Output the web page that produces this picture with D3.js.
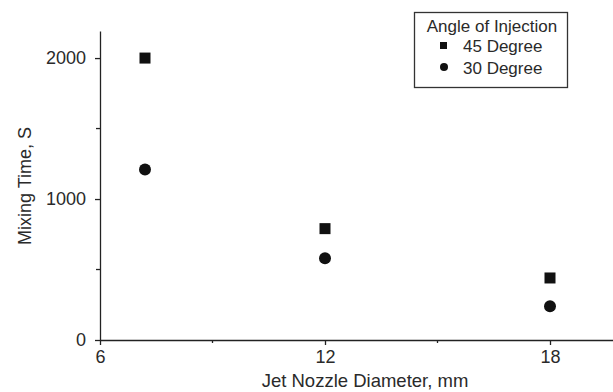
<!DOCTYPE html>
<html lang="en">
<head>
<meta charset="UTF-8">
<title>Mixing Time vs Jet Nozzle Diameter</title>
<style>
    body { margin: 0; background: #fff; }
    svg { display: block; }
    .axis path, .axis line { stroke: #222; stroke-width: 1.3px; }
    .axis text, .label {
        font-family: "Liberation Sans", Arial, sans-serif;
        font-size: 18px;
        fill: #2a2a2a;
    }
    .legend-text { font-size: 17px; }
</style>
</head>
<body>
<svg id="chart" width="613" height="392"></svg>
<script src="https://d3js.org/d3.v7.min.js"></script>
<script>
// data
const diameters = [7.2, 12, 18];
const deg45 = [2000, 790, 440];
const deg30 = [1210, 580, 240];
const seriesNames = ['45 Degree', '30 Degree'];
const xTicks = [6, 12, 18];
const xMinor = [9, 15];
const yTicks = [0, 1000, 2000];
const yMinor = [500, 1500];

const svg = d3.select('#chart');
const margin = {left: 100, top: 31, right: 0, bottom: 52};
const W = 613, H = 392;

const x = d3.scaleLinear().domain([6, 19.68]).range([margin.left, W]);
const y = d3.scaleLinear().domain([0, 2192]).range([340, margin.top]);

const xAx = svg.append('g').attr('class', 'axis').attr('transform', 'translate(0,340)');
xAx.call(d3.axisBottom(x).tickValues(xTicks).tickFormat(d3.format('d'))
    .tickSize(5).tickSizeOuter(0).tickPadding(5));
xAx.selectAll('.minor').data(xMinor).enter().append('line')
    .attr('class', 'minor')
    .attr('x1', d => x(d)).attr('x2', d => x(d))
    .attr('y1', 0).attr('y2', 3);

const yAx = svg.append('g').attr('class', 'axis').attr('transform', `translate(${margin.left},0)`);
yAx.call(d3.axisLeft(y).tickValues(yTicks).tickFormat(d3.format('d'))
    .tickSize(5).tickSizeOuter(0).tickPadding(9));
yAx.selectAll('.minor').data(yMinor).enter().append('line')
    .attr('class', 'minor')
    .attr('x1', 0).attr('x2', -4)
    .attr('y1', d => y(d)).attr('y2', d => y(d));

// axis titles
svg.append('text').attr('class', 'label')
    .attr('x', 365).attr('y', 387)
    .attr('text-anchor', 'middle')
    .style('font-size', '18.5px')
    .text('Jet Nozzle Diameter, mm');

svg.append('text').attr('class', 'label')
    .attr('transform', 'translate(31,186) rotate(-90)')
    .attr('text-anchor', 'middle')
    .text('Mixing Time, S');

// points
const sq = 11;
svg.append('g').selectAll('rect')
    .data(diameters.map((d, i) => ({d, v: deg45[i]})))
    .enter().append('rect')
    .attr('x', p => x(p.d) - sq / 2)
    .attr('y', p => y(p.v) - sq / 2)
    .attr('width', sq).attr('height', sq)
    .attr('fill', '#111');

svg.append('g').selectAll('circle')
    .data(diameters.map((d, i) => ({d, v: deg30[i]})))
    .enter().append('circle')
    .attr('cx', p => x(p.d))
    .attr('cy', p => y(p.v))
    .attr('r', 6)
    .attr('fill', '#111');

// legend
const lg = svg.append('g');
lg.append('rect')
    .attr('x', 414.5).attr('y', 12.5)
    .attr('width', 153).attr('height', 75)
    .attr('fill', '#fff').attr('stroke', '#333').attr('stroke-width', 1.3);
lg.append('text').attr('class', 'label legend-text')
    .attr('x', 492).attr('y', 32)
    .attr('text-anchor', 'middle')
    .text('Angle of Injection');
lg.append('rect')
    .attr('x', 440).attr('y', 42).attr('width', 7).attr('height', 7)
    .attr('fill', '#111');
lg.append('circle')
    .attr('cx', 444).attr('cy', 67).attr('r', 4)
    .attr('fill', '#111');
lg.selectAll('.item').data(seriesNames).enter().append('text')
    .attr('class', 'label legend-text item')
    .attr('x', 463).attr('y', (d, i) => 52 + i * 22)
    .text(d => d);
</script>
</body>
</html>
